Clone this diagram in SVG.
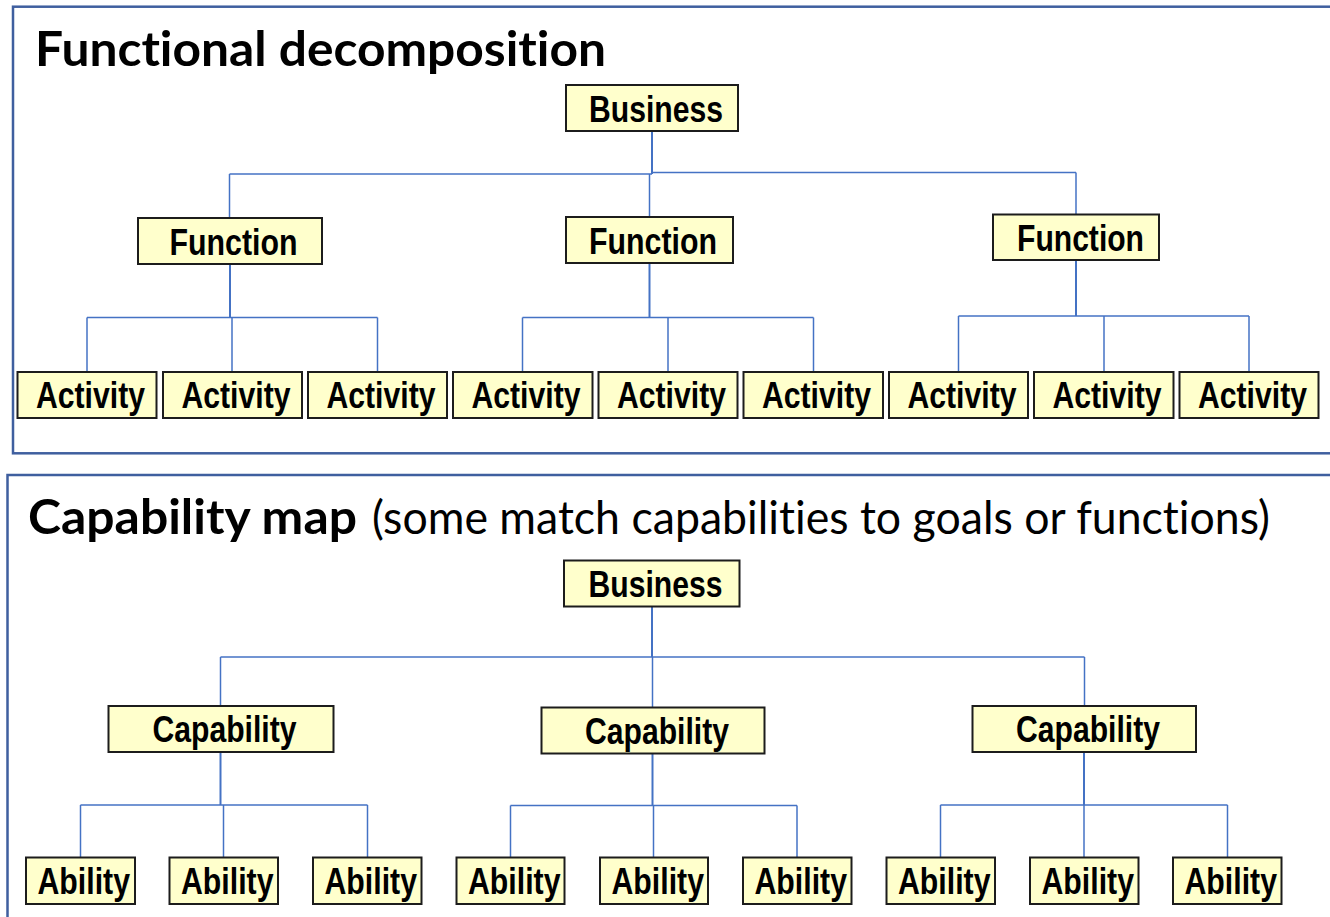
<svg xmlns="http://www.w3.org/2000/svg" width="1330" height="917" viewBox="0 0 1330 917">
<style>
.frame{fill:none;stroke:#3f5f9f;stroke-width:2.5}
.box{fill:#ffffcc;stroke:#1c1c1c;stroke-width:2}
.lbl{font-family:"Liberation Sans",Arial,sans-serif;font-weight:bold;font-size:37px;fill:#000}
.title{font-family:Lato,"Open Sans",sans-serif;font-size:47px;fill:#000;font-variant-ligatures:none;font-feature-settings:"liga" 0}
.con line{stroke:#4472c4;stroke-width:1.5;fill:none}
.con line.trunk{stroke-width:2}
</style>
<rect class="frame" x="13" y="6.7" width="1340" height="446.6"/>
<rect class="frame" x="7.5" y="475" width="1340" height="500"/>
<text class="title" x="35" y="66" font-weight="bold" textLength="571" lengthAdjust="spacingAndGlyphs">Functional decomposition</text>
<text class="title" x="28" y="534" font-weight="bold" textLength="329" lengthAdjust="spacingAndGlyphs">Capability map</text>
<text class="title" x="372" y="534" textLength="898" lengthAdjust="spacingAndGlyphs">(some match capabilities to goals or functions)</text>

<g class="con" id="connectors">
  <line class="trunk" x1="652" y1="131" x2="652" y2="174"/>
  <line x1="229.5" y1="174" x2="652" y2="174"/>
  <line x1="652" y1="172.5" x2="1076" y2="172.5"/>
  <line x1="229.5" y1="174" x2="229.5" y2="218"/>
  <line x1="649.5" y1="174" x2="649.5" y2="217"/>
  <line x1="1076" y1="172.5" x2="1076" y2="214.5"/>

  <line class="trunk" x1="230" y1="264" x2="230" y2="317.5"/>
  <line x1="87" y1="317.5" x2="377.5" y2="317.5"/>
  <line x1="87" y1="317.5" x2="87" y2="372"/>
  <line x1="232" y1="317.5" x2="232" y2="372"/>
  <line x1="377.5" y1="317.5" x2="377.5" y2="372"/>

  <line class="trunk" x1="649.5" y1="263" x2="649.5" y2="317.5"/>
  <line x1="522.5" y1="317.5" x2="813.5" y2="317.5"/>
  <line x1="522.5" y1="317.5" x2="522.5" y2="372"/>
  <line x1="668" y1="317.5" x2="668" y2="372"/>
  <line x1="813.5" y1="317.5" x2="813.5" y2="372"/>

  <line class="trunk" x1="1076" y1="260" x2="1076" y2="316"/>
  <line x1="958.5" y1="316" x2="1249" y2="316"/>
  <line x1="958.5" y1="316" x2="958.5" y2="372"/>
  <line x1="1104" y1="316" x2="1104" y2="372"/>
  <line x1="1249" y1="316" x2="1249" y2="372"/>

  <line class="trunk" x1="652" y1="607" x2="652" y2="657"/>
  <line x1="220.5" y1="657" x2="1084.5" y2="657"/>
  <line x1="220.5" y1="657" x2="220.5" y2="706"/>
  <line x1="652.5" y1="657" x2="652.5" y2="707.5"/>
  <line x1="1084.5" y1="657" x2="1084.5" y2="706"/>

  <line class="trunk" x1="220.5" y1="752" x2="220.5" y2="805"/>
  <line x1="80.5" y1="805" x2="367.5" y2="805"/>
  <line x1="80.5" y1="805" x2="80.5" y2="857.5"/>
  <line x1="223.5" y1="805" x2="223.5" y2="857.5"/>
  <line x1="367.5" y1="805" x2="367.5" y2="857.5"/>

  <line class="trunk" x1="652.5" y1="753" x2="652.5" y2="805.5"/>
  <line x1="510.5" y1="805.5" x2="797" y2="805.5"/>
  <line x1="510.5" y1="805.5" x2="510.5" y2="857.5"/>
  <line x1="653.5" y1="805.5" x2="653.5" y2="857.5"/>
  <line x1="797" y1="805.5" x2="797" y2="857.5"/>

  <line class="trunk" x1="1084" y1="752" x2="1084" y2="805"/>
  <line x1="940.5" y1="805" x2="1227.5" y2="805"/>
  <line x1="940.5" y1="805" x2="940.5" y2="857.5"/>
  <line x1="1084" y1="805" x2="1084" y2="857.5"/>
  <line x1="1227.5" y1="805" x2="1227.5" y2="857.5"/>
</g>

<g id="fd-business"><rect class="box" x="566" y="85" width="172" height="46"/><text class="lbl" x="589" y="122" textLength="134" lengthAdjust="spacingAndGlyphs">Business</text></g>
<g id="fd-function-1"><rect class="box" x="138" y="218" width="184" height="46"/><text class="lbl" x="169.5" y="255" textLength="128" lengthAdjust="spacingAndGlyphs">Function</text></g>
<g id="fd-function-2"><rect class="box" x="566" y="217" width="167" height="46"/><text class="lbl" x="589" y="253.5" textLength="128" lengthAdjust="spacingAndGlyphs">Function</text></g>
<g id="fd-function-3"><rect class="box" x="993" y="214.5" width="166" height="45.5"/><text class="lbl" x="1017" y="251" textLength="127" lengthAdjust="spacingAndGlyphs">Function</text></g>

<g id="fd-activity-1"><rect class="box" x="17.5" y="372" width="139" height="46"/><text class="lbl" x="36" y="408" textLength="109" lengthAdjust="spacingAndGlyphs">Activity</text></g>
<g id="fd-activity-2"><rect class="box" x="163" y="372" width="139" height="46"/><text class="lbl" x="181.5" y="408" textLength="109" lengthAdjust="spacingAndGlyphs">Activity</text></g>
<g id="fd-activity-3"><rect class="box" x="308" y="372" width="139" height="46"/><text class="lbl" x="326.5" y="408" textLength="109" lengthAdjust="spacingAndGlyphs">Activity</text></g>
<g id="fd-activity-4"><rect class="box" x="453" y="372" width="139.5" height="46"/><text class="lbl" x="471.5" y="408" textLength="109" lengthAdjust="spacingAndGlyphs">Activity</text></g>
<g id="fd-activity-5"><rect class="box" x="598.5" y="372" width="139" height="46"/><text class="lbl" x="617" y="408" textLength="109" lengthAdjust="spacingAndGlyphs">Activity</text></g>
<g id="fd-activity-6"><rect class="box" x="743.5" y="372" width="139.5" height="46"/><text class="lbl" x="762" y="408" textLength="109" lengthAdjust="spacingAndGlyphs">Activity</text></g>
<g id="fd-activity-7"><rect class="box" x="889" y="372" width="139" height="46"/><text class="lbl" x="907.5" y="408" textLength="109" lengthAdjust="spacingAndGlyphs">Activity</text></g>
<g id="fd-activity-8"><rect class="box" x="1034" y="372" width="139.5" height="46"/><text class="lbl" x="1052.5" y="408" textLength="109" lengthAdjust="spacingAndGlyphs">Activity</text></g>
<g id="fd-activity-9"><rect class="box" x="1179.5" y="372" width="139" height="46"/><text class="lbl" x="1198" y="408" textLength="109" lengthAdjust="spacingAndGlyphs">Activity</text></g>

<g id="cm-business"><rect class="box" x="564" y="560.5" width="175.5" height="46"/><text class="lbl" x="588.5" y="596.5" textLength="134" lengthAdjust="spacingAndGlyphs">Business</text></g>
<g id="cm-capability-1"><rect class="box" x="108.5" y="706" width="225" height="46"/><text class="lbl" x="152.5" y="742" textLength="144" lengthAdjust="spacingAndGlyphs">Capability</text></g>
<g id="cm-capability-2"><rect class="box" x="541.5" y="707.5" width="223" height="46"/><text class="lbl" x="585" y="743.5" textLength="144" lengthAdjust="spacingAndGlyphs">Capability</text></g>
<g id="cm-capability-3"><rect class="box" x="972.5" y="706" width="223.5" height="46"/><text class="lbl" x="1016" y="742" textLength="144" lengthAdjust="spacingAndGlyphs">Capability</text></g>

<g id="cm-ability-1"><rect class="box" x="26" y="857.5" width="109" height="46.5"/><text class="lbl" x="37.5" y="894" textLength="92.5" lengthAdjust="spacingAndGlyphs">Ability</text></g>
<g id="cm-ability-2"><rect class="box" x="169.5" y="857.5" width="108.5" height="46.5"/><text class="lbl" x="181" y="894" textLength="92.5" lengthAdjust="spacingAndGlyphs">Ability</text></g>
<g id="cm-ability-3"><rect class="box" x="313" y="857.5" width="108.5" height="46.5"/><text class="lbl" x="324.5" y="894" textLength="92.5" lengthAdjust="spacingAndGlyphs">Ability</text></g>
<g id="cm-ability-4"><rect class="box" x="456.5" y="857.5" width="108" height="46.5"/><text class="lbl" x="468" y="894" textLength="92.5" lengthAdjust="spacingAndGlyphs">Ability</text></g>
<g id="cm-ability-5"><rect class="box" x="600" y="857.5" width="108" height="46.5"/><text class="lbl" x="611.5" y="894" textLength="92.5" lengthAdjust="spacingAndGlyphs">Ability</text></g>
<g id="cm-ability-6"><rect class="box" x="743" y="857.5" width="108.5" height="46.5"/><text class="lbl" x="754.5" y="894" textLength="92.5" lengthAdjust="spacingAndGlyphs">Ability</text></g>
<g id="cm-ability-7"><rect class="box" x="886.5" y="857.5" width="108.5" height="46.5"/><text class="lbl" x="898" y="894" textLength="92.5" lengthAdjust="spacingAndGlyphs">Ability</text></g>
<g id="cm-ability-8"><rect class="box" x="1030" y="857.5" width="108.5" height="46.5"/><text class="lbl" x="1041.5" y="894" textLength="92.5" lengthAdjust="spacingAndGlyphs">Ability</text></g>
<g id="cm-ability-9"><rect class="box" x="1173" y="857.5" width="108.5" height="46.5"/><text class="lbl" x="1184.5" y="894" textLength="92.5" lengthAdjust="spacingAndGlyphs">Ability</text></g>
</svg>
